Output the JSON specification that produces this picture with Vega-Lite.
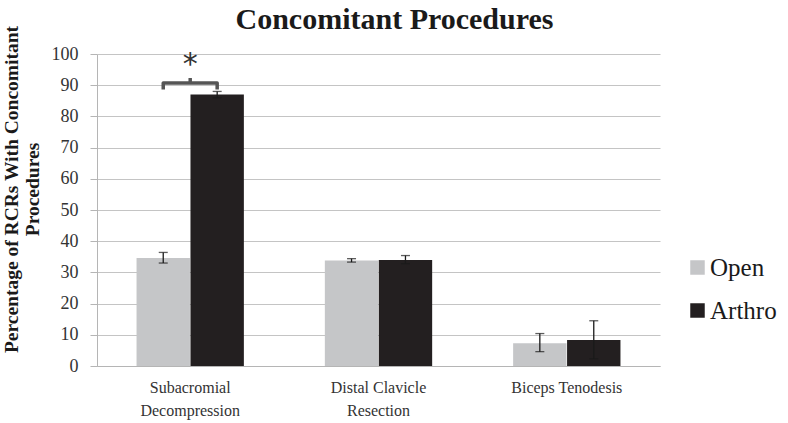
{
  "$schema": "https://vega.github.io/schema/vega-lite/v6.json",
  "width": 563,
  "height": 312,
  "autosize": {"type": "none"},
  "padding": {"left": 97, "top": 54, "right": 128, "bottom": 57},
  "background": "white",
  "title": {"text": "Concomitant Procedures", "font": "Liberation Serif", "fontSize": 30, "fontWeight": "bold", "color": "#1a1a1a", "dx": 16, "offset": -12},
  "config": {
    "view": {"stroke": null},
    "font": "Liberation Serif",
    "axis": {"labelFont": "Liberation Serif", "titleFont": "Liberation Serif", "labelColor": "#333333", "domainColor": "#b5b5b5", "tickColor": "#b5b5b5", "gridColor": "#c4c4c4"},
    "axisY": {"tickCount": 10, "labelOverlap": false, "labelFontSize": 18, "tickSize": 7, "labelPadding": 12, "gridWidth": 1.2}
  },
  "datasets": {
    "bars": [
      {"procedure": "Subacromial Decompression", "group": "Open", "value": 34.6, "low": 33.0, "high": 36.4},
      {"procedure": "Subacromial Decompression", "group": "Arthro", "value": 87.0, "low": 86.0, "high": 88.0},
      {"procedure": "Distal Clavicle Resection", "group": "Open", "value": 33.8, "low": 33.3, "high": 34.4},
      {"procedure": "Distal Clavicle Resection", "group": "Arthro", "value": 34.0, "low": 32.8, "high": 35.4},
      {"procedure": "Biceps Tenodesis", "group": "Open", "value": 7.3, "low": 4.6, "high": 10.4},
      {"procedure": "Biceps Tenodesis", "group": "Arthro", "value": 8.3, "low": 2.3, "high": 14.5}
    ],
    "bracket": [
      {"procedure": "Subacromial Decompression", "group": "Open", "y": 88.6, "order": 1},
      {"procedure": "Subacromial Decompression", "group": "Open", "y": 90.7, "order": 2},
      {"procedure": "Subacromial Decompression", "group": "Arthro", "y": 90.7, "order": 3},
      {"procedure": "Subacromial Decompression", "group": "Arthro", "y": 88.6, "order": 4}
    ],
    "star": [
      {"procedure": "Subacromial Decompression", "y": 90.7, "y2": 92.3, "ys": 96.5, "label": "*"}
    ]
  },
  "layer": [
    {
      "data": {"name": "bars"},
      "mark": {"type": "bar"},
      "encoding": {
        "x": {"field": "procedure", "type": "nominal", "sort": ["Subacromial Decompression", "Distal Clavicle Resection", "Biceps Tenodesis"],
          "scale": {"paddingInner": 0.43, "paddingOuter": 0.21},
          "axis": {"title": null, "labelAngle": 0, "ticks": false, "labelFontSize": 16, "labelPadding": 13, "labelLineHeight": 23,
            "labelExpr": "datum.value == 'Subacromial Decompression' ? ['Subacromial', 'Decompression'] : datum.value == 'Distal Clavicle Resection' ? ['Distal Clavicle', 'Resection'] : datum.value"}},
        "xOffset": {"field": "group", "type": "nominal", "sort": ["Open", "Arthro"], "scale": {"paddingInner": 0.01}},
        "y": {"field": "value", "type": "quantitative", "scale": {"domain": [0, 100]},
          "axis": {"title": ["Percentage of  RCRs With Concomitant", "Procedures"], "titleFontSize": 19.5, "titleFontWeight": "bold", "titleColor": "#1a1a1a", "titleY": 135, "titleX": -76, "titleLineHeight": 21}},
        "color": {"field": "group", "type": "nominal", "scale": {"domain": ["Open", "Arthro"], "range": ["#c5c6c8", "#231f20"]},
          "legend": {"title": null, "orient": "none", "legendX": 588, "legendY": 201, "symbolType": "square", "symbolSize": 210, "labelFontSize": 25, "labelFont": "Liberation Serif", "labelColor": "#1a1a1a", "rowPadding": 17, "symbolStrokeWidth": 0, "labelOffset": 0}}
      }
    },
    {
      "data": {"name": "bars"},
      "mark": {"type": "rule", "color": "#1a1a1a", "strokeWidth": 1.3},
      "encoding": {
        "x": {"field": "procedure", "type": "nominal", "sort": ["Subacromial Decompression", "Distal Clavicle Resection", "Biceps Tenodesis"]},
        "xOffset": {"field": "group", "type": "nominal", "sort": ["Open", "Arthro"]},
        "y": {"field": "low", "type": "quantitative"},
        "y2": {"field": "high"}
      }
    },
    {
      "data": {"name": "bars"},
      "mark": {"type": "tick", "color": "#1a1a1a", "thickness": 1.3, "size": 9, "orient": "horizontal"},
      "encoding": {
        "x": {"field": "procedure", "type": "nominal", "sort": ["Subacromial Decompression", "Distal Clavicle Resection", "Biceps Tenodesis"]},
        "xOffset": {"field": "group", "type": "nominal", "sort": ["Open", "Arthro"]},
        "y": {"field": "low", "type": "quantitative"}
      }
    },
    {
      "data": {"name": "bars"},
      "mark": {"type": "tick", "color": "#1a1a1a", "thickness": 1.3, "size": 9, "orient": "horizontal"},
      "encoding": {
        "x": {"field": "procedure", "type": "nominal", "sort": ["Subacromial Decompression", "Distal Clavicle Resection", "Biceps Tenodesis"]},
        "xOffset": {"field": "group", "type": "nominal", "sort": ["Open", "Arthro"]},
        "y": {"field": "high", "type": "quantitative"}
      }
    },
    {
      "data": {"name": "bracket"},
      "mark": {"type": "line", "color": "#555555", "strokeWidth": 3.5, "strokeJoin": "round", "interpolate": "linear"},
      "encoding": {
        "x": {"field": "procedure", "type": "nominal", "sort": ["Subacromial Decompression", "Distal Clavicle Resection", "Biceps Tenodesis"]},
        "xOffset": {"field": "group", "type": "nominal", "sort": ["Open", "Arthro"]},
        "y": {"field": "y", "type": "quantitative"},
        "order": {"field": "order"}
      }
    },
    {
      "data": {"name": "star"},
      "mark": {"type": "rule", "color": "#555555", "strokeWidth": 3.5},
      "encoding": {
        "x": {"field": "procedure", "type": "nominal", "sort": ["Subacromial Decompression", "Distal Clavicle Resection", "Biceps Tenodesis"]},
        "y": {"field": "y", "type": "quantitative"},
        "y2": {"field": "y2"}
      }
    },
    {
      "data": {"name": "star"},
      "mark": {"type": "text", "font": "DejaVu Sans", "fontSize": 30, "color": "#333333", "baseline": "middle"},
      "encoding": {
        "x": {"field": "procedure", "type": "nominal", "sort": ["Subacromial Decompression", "Distal Clavicle Resection", "Biceps Tenodesis"]},
        "y": {"field": "ys", "type": "quantitative"},
        "text": {"field": "label"}
      }
    }
  ]
}
